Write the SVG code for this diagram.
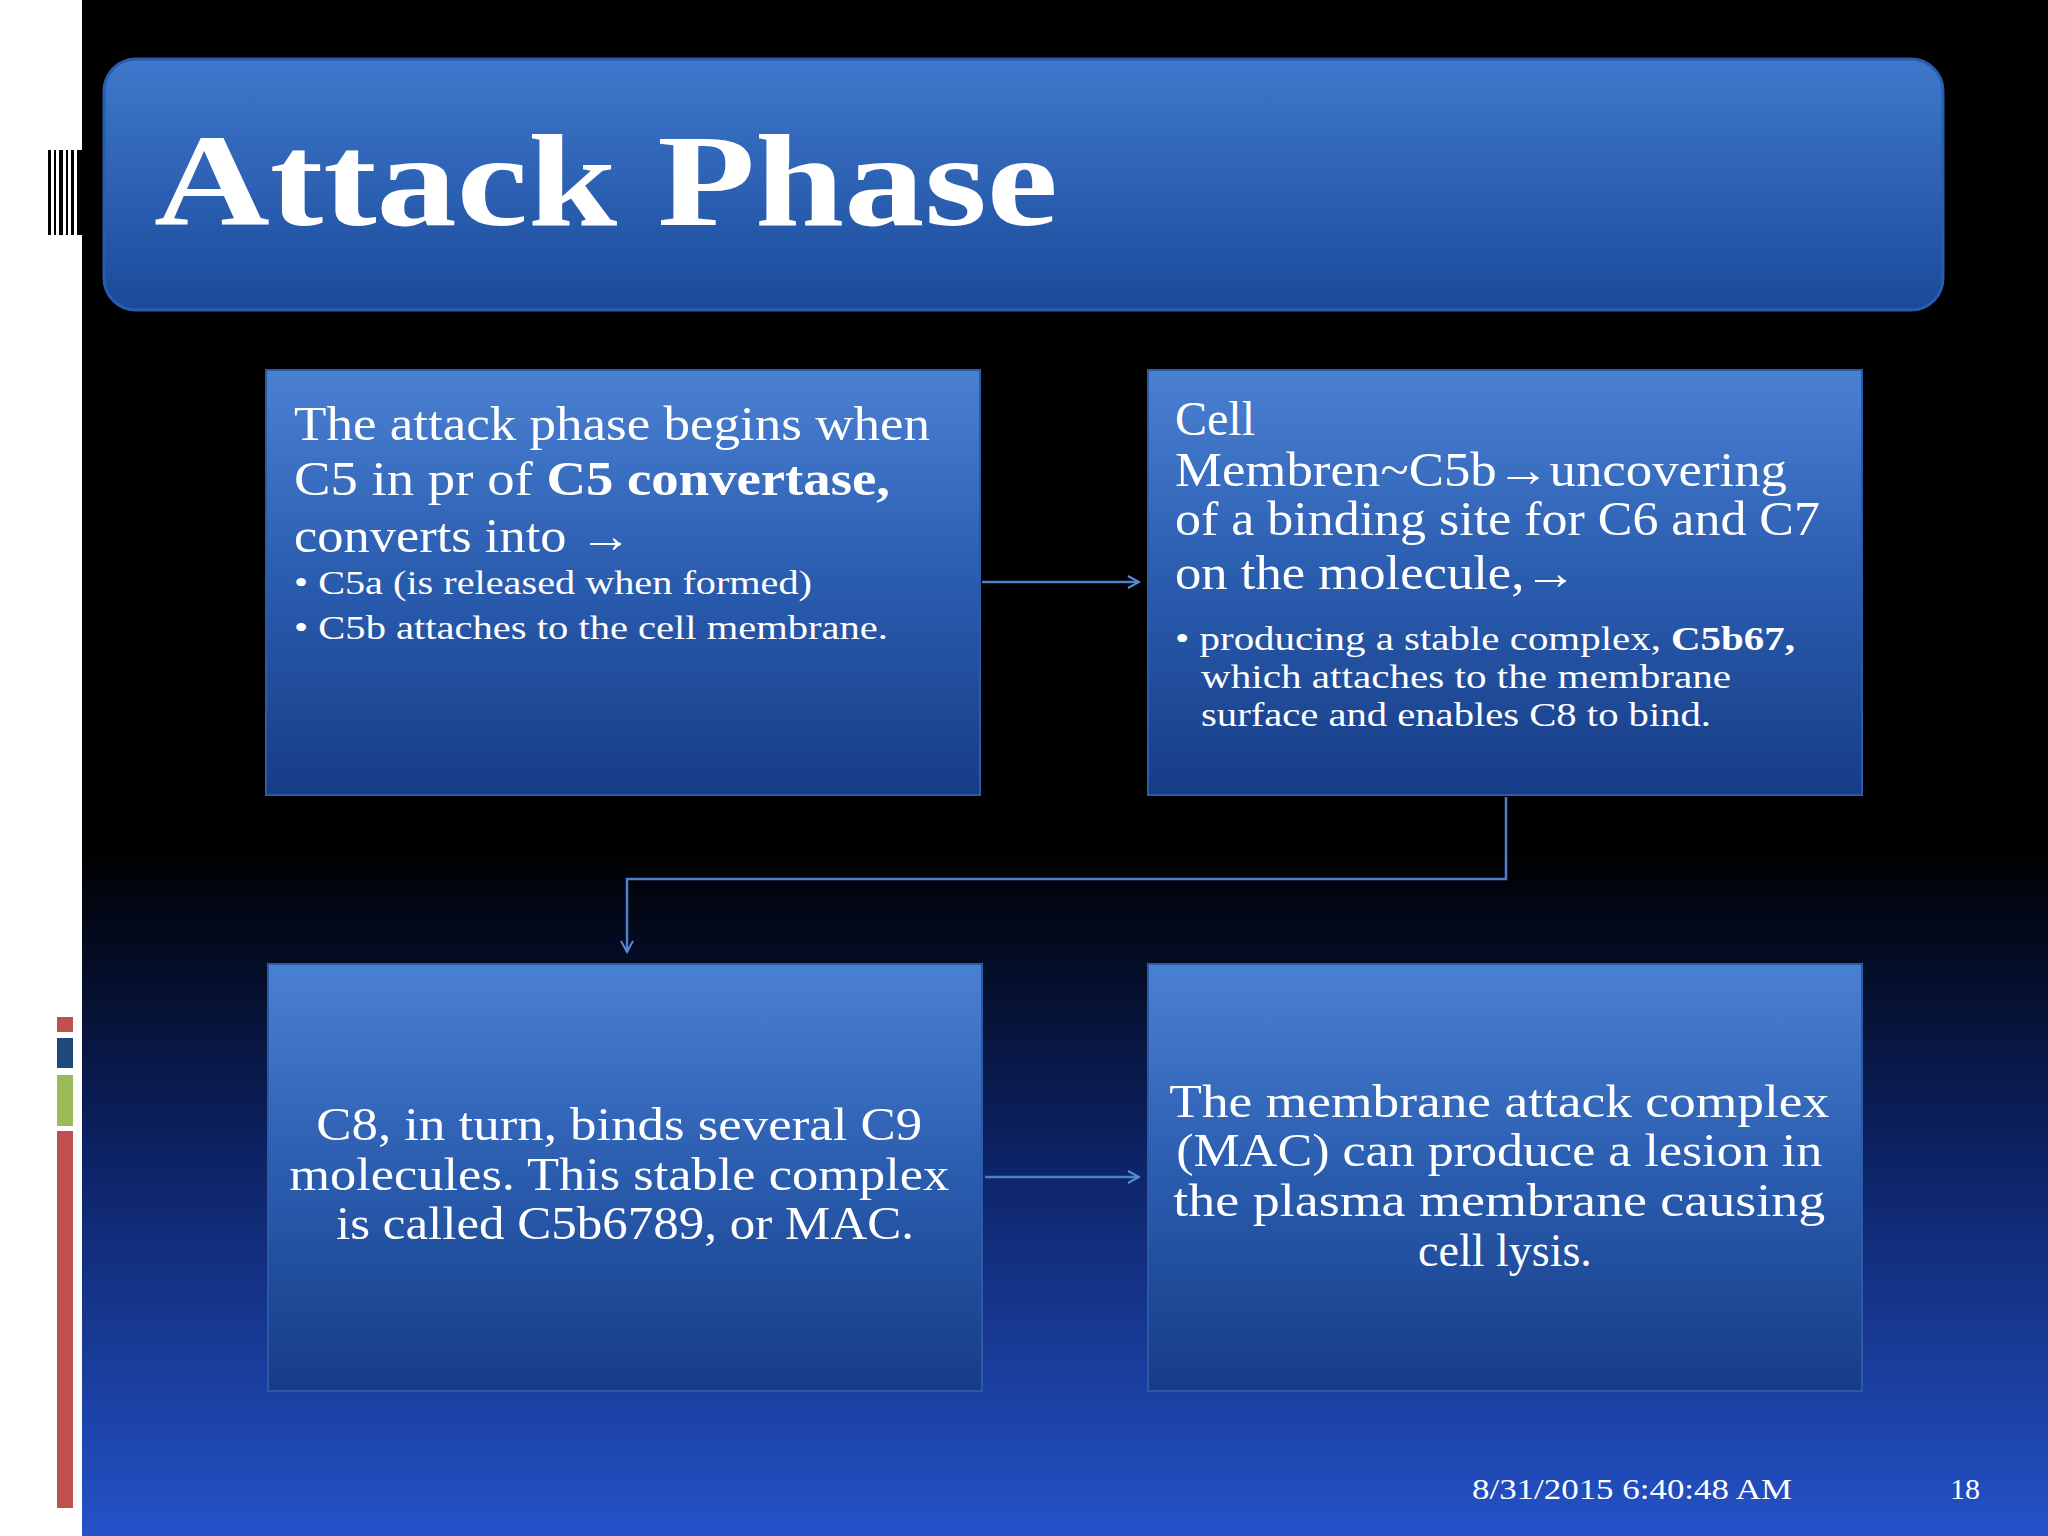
<svg xmlns="http://www.w3.org/2000/svg" width="2048" height="1536" viewBox="0 0 2048 1536">
<defs>
<linearGradient id="bg" x1="0" y1="0" x2="0" y2="1">
<stop offset="0" stop-color="#000"/><stop offset="0.55" stop-color="#000"/><stop offset="0.75" stop-color="#0c2264"/><stop offset="1" stop-color="#2452c8"/>
</linearGradient>
<linearGradient id="box" x1="0" y1="0" x2="0" y2="1">
<stop offset="0" stop-color="#4a80d2"/><stop offset="0.5" stop-color="#2a5cae"/><stop offset="1" stop-color="#163c86"/>
</linearGradient>
<linearGradient id="title" x1="0" y1="0" x2="0" y2="1">
<stop offset="0" stop-color="#3f78cc"/><stop offset="1" stop-color="#1a4a9a"/>
</linearGradient>
<marker id="ah" markerWidth="14" markerHeight="14" refX="12" refY="7" orient="auto" markerUnits="userSpaceOnUse">
<path d="M1,1 L12,7 L1,13" fill="none" stroke="#5b8ad6" stroke-width="2"/>
</marker>
<style>
.bx{fill:url(#box);stroke:#2c5aa8;stroke-width:2}
.t{font-family:"Liberation Serif",serif;fill:#fff}
.c{stroke:#4f80cf;stroke-width:2.5;fill:none}
</style>
</defs>
<rect width="2048" height="1536" fill="url(#bg)"/>
<rect width="82" height="1536" fill="#fff"/>
<g id="deco">
<g fill="#000"><rect x="48" y="150" width="3" height="85"/><rect x="54" y="150" width="2" height="85"/><rect x="59" y="150" width="4" height="85"/><rect x="66" y="150" width="2" height="85"/><rect x="71" y="150" width="3" height="85"/><rect x="77" y="150" width="5" height="85"/></g>
<rect x="57" y="1017" width="16" height="15" fill="#c0504d"/>
<rect x="57" y="1038" width="16" height="30" fill="#1f497d"/>
<rect x="57" y="1075" width="16" height="51" fill="#9bbb59"/>
<rect x="57" y="1131" width="16" height="377" fill="#c0504d"/>
</g>
<g id="title-bar">
<rect x="104" y="59" width="1839" height="251" rx="32" fill="url(#title)" stroke="#2a5cae" stroke-width="3"/>
<text x="154" y="225" class="t" font-size="132" font-weight="bold" textLength="904" lengthAdjust="spacingAndGlyphs">Attack Phase</text>
</g>
<g id="connectors">
<line x1="982" y1="582" x2="1139" y2="582" class="c" marker-end="url(#ah)"/>
<polyline points="1506,797 1506,879 627,879 627,952" class="c" marker-end="url(#ah)"/>
<line x1="985" y1="1177" x2="1139" y2="1177" class="c" marker-end="url(#ah)"/>
</g>
<g id="box1">
<rect x="266" y="370" width="714" height="425" class="bx"/>
<text class="t" font-size="48">
<tspan x="294" y="440" textLength="636" lengthAdjust="spacingAndGlyphs">The attack phase begins when</tspan>
<tspan x="294" y="495" textLength="596" lengthAdjust="spacingAndGlyphs">C5 in pr of <tspan font-weight="bold">C5 convertase,</tspan></tspan>
<tspan x="294" y="552" textLength="338" lengthAdjust="spacingAndGlyphs">converts into →</tspan>
</text>
<text class="t" font-size="34">
<tspan x="294" y="594" textLength="518" lengthAdjust="spacingAndGlyphs">• C5a (is released when formed)</tspan>
<tspan x="294" y="639" textLength="594" lengthAdjust="spacingAndGlyphs">• C5b attaches to the cell membrane.</tspan>
</text>
</g>
<g id="box2">
<rect x="1148" y="370" width="714" height="425" class="bx"/>
<text class="t" font-size="48">
<tspan x="1175" y="435">Cell</tspan>
<tspan x="1175" y="486" textLength="612" lengthAdjust="spacingAndGlyphs">Membren~C5b→uncovering</tspan>
<tspan x="1175" y="535" textLength="645" lengthAdjust="spacingAndGlyphs">of a binding site for C6 and C7</tspan>
<tspan x="1175" y="589" textLength="402" lengthAdjust="spacingAndGlyphs">on the molecule,→</tspan>
</text>
<text class="t" font-size="34">
<tspan x="1175" y="650" textLength="620" lengthAdjust="spacingAndGlyphs">• producing a stable complex, <tspan font-weight="bold">C5b67,</tspan></tspan>
<tspan x="1201" y="688" textLength="530" lengthAdjust="spacingAndGlyphs">which attaches to the membrane</tspan>
<tspan x="1201" y="726" textLength="510" lengthAdjust="spacingAndGlyphs">surface and enables C8 to bind.</tspan>
</text>
</g>
<g id="box3">
<rect x="268" y="964" width="714" height="427" class="bx"/>
<text class="t" font-size="46" text-anchor="middle">
<tspan x="625" y="1140" textLength="606" lengthAdjust="spacingAndGlyphs">C8, in turn, binds several C9</tspan>
<tspan x="625" y="1190" textLength="660" lengthAdjust="spacingAndGlyphs">molecules. This stable complex</tspan>
<tspan x="625" y="1239" textLength="578" lengthAdjust="spacingAndGlyphs">is called C5b6789, or MAC.</tspan>
</text>
</g>
<g id="box4">
<rect x="1148" y="964" width="714" height="427" class="bx"/>
<text class="t" font-size="46" text-anchor="middle">
<tspan x="1505" y="1117" textLength="660" lengthAdjust="spacingAndGlyphs">The membrane attack complex</tspan>
<tspan x="1505" y="1166" textLength="646" lengthAdjust="spacingAndGlyphs">(MAC) can produce a lesion in</tspan>
<tspan x="1505" y="1216" textLength="652" lengthAdjust="spacingAndGlyphs">the plasma membrane causing</tspan>
<tspan x="1505" y="1266">cell lysis.</tspan>
</text>
</g>
<g id="footer">
<text x="1472" y="1499" class="t" font-size="30" fill="#dde" textLength="320" lengthAdjust="spacingAndGlyphs">8/31/2015 6:40:48 AM</text>
<text x="1950" y="1499" class="t" font-size="30">18</text>
</g>
</svg>
